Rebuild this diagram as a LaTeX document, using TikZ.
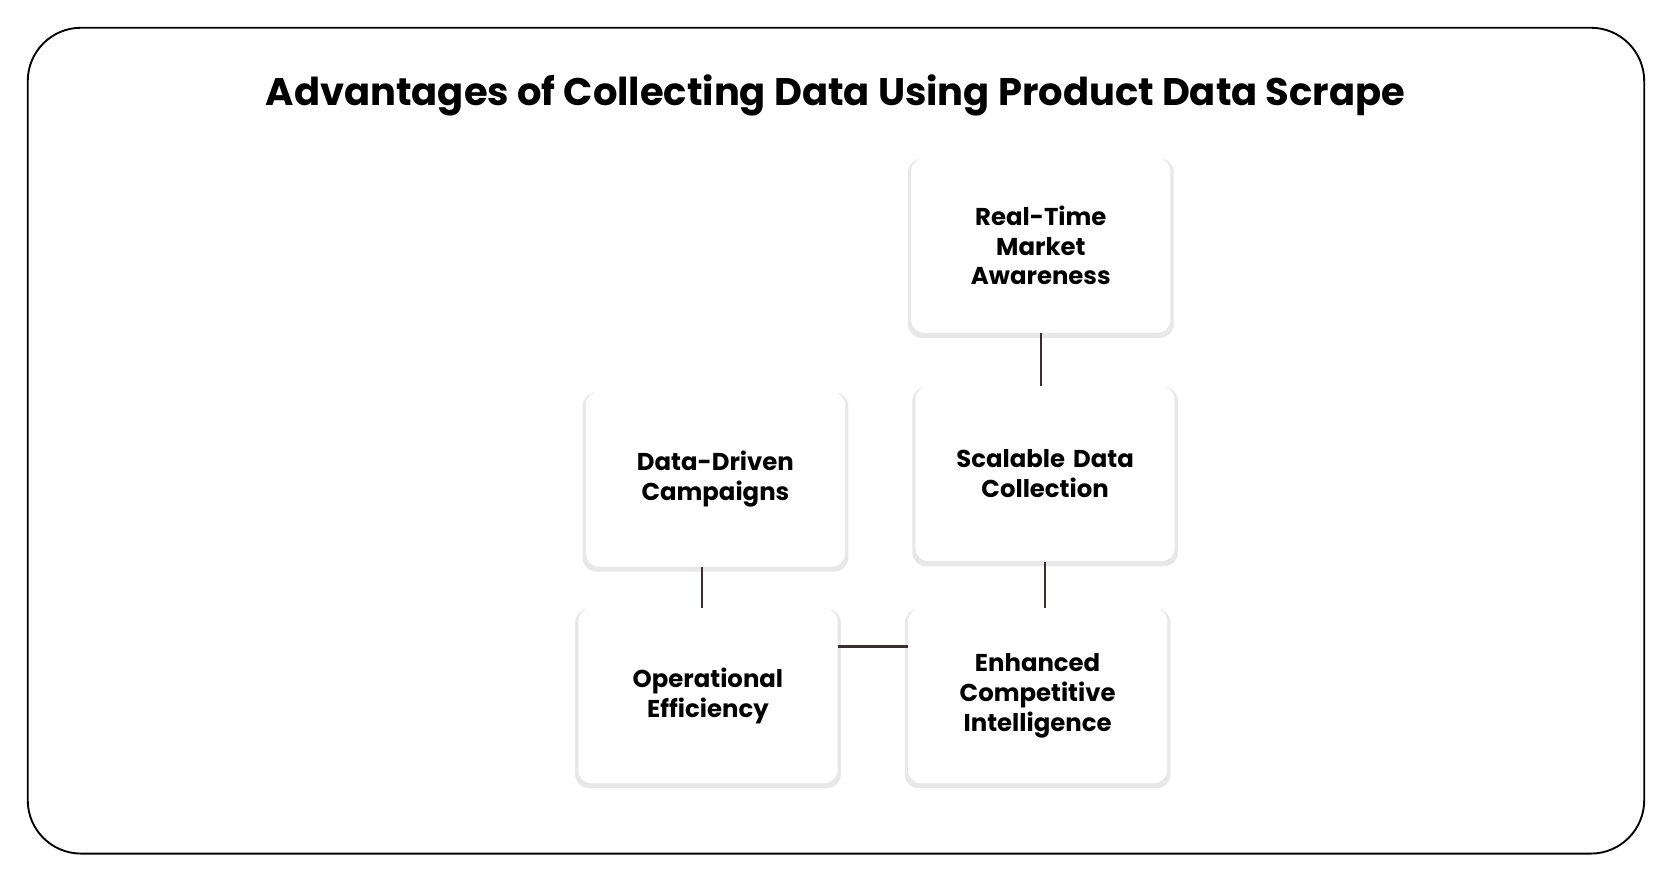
\documentclass[tikz,border=0pt]{standalone}
\usepackage{fontspec}
\setmainfont{Poppins}
\usetikzlibrary{positioning, shadows}

\definecolor{linkcol}{HTML}{3B2E2E}

\begin{document}
\begin{tikzpicture}[x=0.02cm, y=-0.02cm,
  frame/.style={draw=black, line width=1pt, rounded corners=1cm},
  benefit/.style={rectangle, rounded corners=0.25cm, minimum width=4.86cm, minimum height=3.28cm,
    text width=4cm, align=center, fill=white, font=\fontsize{13}{15.9}\selectfont\bfseries,
    drop shadow={shadow xshift=0pt, shadow yshift=-1.5pt, shadow scale=1.025, opacity=0.18, fill=black!50}},
  link/.style={draw=linkcol, line width=1.2pt}]

  \useasboundingbox (0,0) rectangle (1568,826);
  \draw [frame] (26,26) rectangle (1541,800);

  % Title
  \node (title) [font=\fontsize{20.5}{24}\selectfont\bfseries] at (783,89) {Advantages of Collecting Data Using Product Data Scrape};

  % Nodes
  \node (realtime) [benefit] at (975.5,230) {Real-Time\\Market\\Awareness};
  \node (scalable) [benefit] at (979.5,444) {Scalable Data\\Collection};
  \node (campaigns) [benefit] at (670.5,449) {Data-Driven\\Campaigns};
  \node (efficiency) [benefit] at (663.5,652) {Operational\\Efficiency};
  \node (intel) [benefit] at (972.5,652) {Enhanced\\Competitive\\Intelligence};

  % Connectors
  \draw [link] (realtime.south) -- (realtime.south |- scalable.north);
  \draw [link] (scalable.south) -- (scalable.south |- intel.north);
  \draw [link] ([xshift=-0.25cm]campaigns.south) -- ([xshift=-0.25cm]campaigns.south |- efficiency.north);
  \draw [link] ([yshift=0.92cm]efficiency.east) -- ([yshift=0.92cm]efficiency.east -| intel.west);

\end{tikzpicture}
\end{document}
